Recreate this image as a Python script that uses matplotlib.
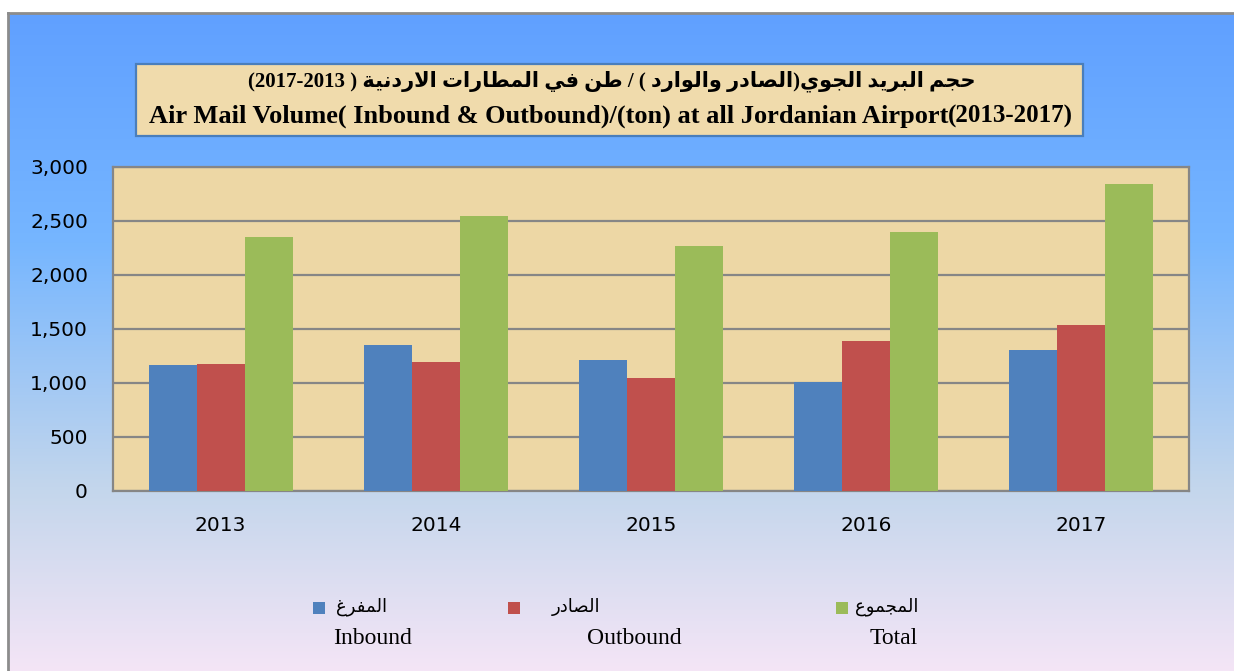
import numpy as np
import matplotlib
matplotlib.use('Agg')
import matplotlib.pyplot as plt
from matplotlib.patches import Rectangle
import re

years = ['2013', '2014', '2015', '2016', '2017']
inbound = [1167, 1349, 1216, 1006, 1302]
outbound = [1179, 1194, 1043, 1386, 1534]
total = [2349, 2546, 2265, 2398, 2840]
series_ar = ['المفرغ', 'الصادر', 'المجموع']
series_en = ['Inbound', 'Outbound', 'Total']
colors = ['#4F81BD', '#C0504D', '#9BBB59']
title_ar = 'حجم البريد الجوي(الصادر والوارد ) / طن في المطارات الاردنية ( 2013-2017)'
title_en = 'Air Mail Volume( Inbound & Outbound)/(ton) at all Jordanian Airport'
title_yrs = '(2013-2017)'

# minimal arabic shaping + visual reordering (matplotlib has no bidi)
dual = {}
for ch, base in zip('بتثجحخسشصضطظعغفقكلمنهي',
                    [0xFE8F, 0xFE95, 0xFE99, 0xFE9D, 0xFEA1, 0xFEA5, 0xFEB1, 0xFEB5,
                     0xFEB9, 0xFEBD, 0xFEC1, 0xFEC5, 0xFEC9, 0xFECD, 0xFED1, 0xFED5,
                     0xFED9, 0xFEDD, 0xFEE1, 0xFEE5, 0xFEE9, 0xFEF1]):
    dual[ch] = base
right = {}
for ch, base in zip('اةدذرزوى', [0xFE8D, 0xFE93, 0xFEA9, 0xFEAB, 0xFEAD, 0xFEAF, 0xFEED, 0xFEEF]):
    right[ch] = base


def shape(s):
    out = []
    i = 0
    prev_joins = False
    while i < len(s):
        c = s[i]
        nxt = s[i + 1] if i + 1 < len(s) else ''
        if c == 'ل' and nxt == 'ا':
            out.append(chr(0xFEFC if prev_joins else 0xFEFB))
            prev_joins = False
            i += 2
            continue
        if c in dual:
            n_ar = nxt in dual or nxt in right
            if prev_joins and n_ar:
                code = dual[c] + 3
            elif prev_joins:
                code = dual[c] + 1
            elif n_ar:
                code = dual[c] + 2
            else:
                code = dual[c]
            out.append(chr(code))
            prev_joins = n_ar
        elif c in right:
            out.append(chr(right[c] + (1 if prev_joins else 0)))
            prev_joins = False
        else:
            out.append(c)
            prev_joins = False
        i += 1
    v = ''.join(out)[::-1]
    v = v.translate(str.maketrans('()', ')('))
    v = re.sub(r'[0-9]+', lambda m: m.group(0)[::-1], v)
    return v


W, H = 1234, 671
fig = plt.figure(figsize=(W / 100, H / 100), dpi=100)
fig.patch.set_facecolor('white')

# gradient background panel
bg = fig.add_axes([8 / W, 0, 1 - 8 / W, 1 - 13 / H])
stops_y = [0.0, 0.35, 0.72, 1.0]
stops_c = np.array([[96, 160, 255], [118, 182, 255], [195, 214, 236], [244, 229, 246]]) / 255
yy = np.linspace(0, 1, 400)
grad = np.stack([np.interp(yy, stops_y, stops_c[:, k]) for k in range(3)], axis=1)
bg.imshow(grad[:, None, :], aspect='auto', extent=[0, 1, 1, 0])
bg.set_xlim(0, 1)
bg.set_ylim(1, 0)
bg.set_xticks([])
bg.set_yticks([])
for s in ['right', 'bottom']:
    bg.spines[s].set_visible(False)
for s in ['left', 'top']:
    bg.spines[s].set_color('#8c8c8c')
    bg.spines[s].set_linewidth(2)

ax = fig.add_axes([113 / W, 1 - 491 / H, (1189 - 113) / W, (491 - 167) / H])
ax.set_facecolor('#EDD7A5')
x = np.arange(len(years))
w = 0.223
for k, vals in enumerate([inbound, outbound, total]):
    ax.bar(x + (k - 1) * w, vals, w, color=colors[k], zorder=3)
ax.set_xlim(-0.5, len(years) - 0.5)
ax.set_ylim(0, 3000)
ax.set_yticks(range(0, 3001, 500))
ax.set_yticklabels([f'{v:,}' for v in range(0, 3001, 500)])
ax.set_xticks(x)
ax.set_xticklabels(years)
ax.tick_params(length=0, labelsize=14.5, colors='black')
ax.tick_params(axis='y', pad=18)
ax.tick_params(axis='x', pad=18)
ax.grid(axis='y', color='#868686', linewidth=1.6, zorder=1)
for s in ax.spines.values():
    s.set_color('#868686')
    s.set_linewidth(1.6)

# title box
fig.patches.append(Rectangle((136 / W, 1 - 136 / H), (1083 - 136) / W, (136 - 64) / H,
                             transform=fig.transFigure, facecolor='#F0DBAC',
                             edgecolor='#4A7EBB', linewidth=1.6, zorder=5))
fig.text(612 / W, 1 - 81 / H, shape(title_ar), ha='center', va='center', fontsize=15,
         fontweight='bold', family=['Liberation Serif', 'DejaVu Sans'], zorder=6)
fig.text(948 / W, 1 - 116 / H, title_en, ha='right', va='center', fontsize=19,
         fontweight='bold', family='Liberation Serif', zorder=6)
fig.text(948 / W, 1 - 116 / H, title_yrs, ha='left', va='center', fontsize=18,
         fontweight='bold', family='Liberation Serif', zorder=6)

# legend
mark_x = [319, 514, 842]
ar_x = [387, 600, 918]
en_x = [412, 682, 918]
for k in range(3):
    fig.patches.append(Rectangle(((mark_x[k] - 6) / W, 1 - 614 / H), 12 / W, 12 / H,
                                 transform=fig.transFigure, facecolor=colors[k],
                                 edgecolor='none', zorder=5))
    fig.text(ar_x[k] / W, 1 - 607 / H, shape(series_ar[k]), ha='right', va='center',
             fontsize=13, family=['Liberation Serif', 'DejaVu Sans'])
    fig.text(en_x[k] / W, 1 - 638 / H, series_en[k], ha='right', va='center',
             fontsize=17, family='Liberation Serif')

fig.savefig('out.png', dpi=100)
